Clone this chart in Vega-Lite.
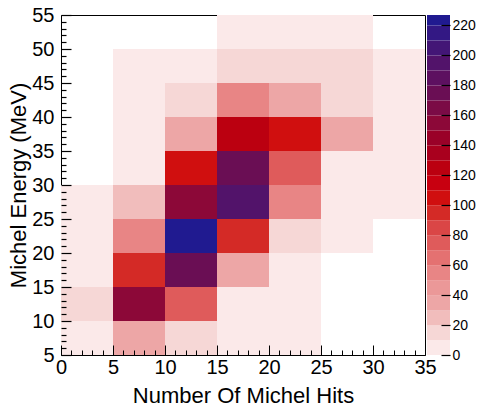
{
  "$schema": "https://vega.github.io/schema/vega-lite/v6.json",
  "background": "white",
  "padding": {"left": 7, "top": 4, "right": 0, "bottom": 0},
  "config": {
    "font": "Liberation Sans",
    "axis": {
      "labelFont": "Liberation Sans",
      "titleFont": "Liberation Sans",
      "labelColor": "black",
      "titleColor": "black",
      "titleFontWeight": "normal",
      "domain": false,
      "grid": false,
      "labelFlush": false,
      "labelOverlap": false,
      "labelBound": false
    }
  },
  "spacing": 2,
  "bounds": "flush",
  "resolve": {"scale": {"color": "independent"}},
  "hconcat": [
    {
      "width": 364,
      "height": 340,
      "view": {"stroke": "black", "strokeWidth": 1},
      "data": {
        "values": [
          {"x0": 0, "x1": 5, "y0": 5, "y1": 10, "v": 4},
          {"x0": 5, "x1": 10, "y0": 5, "y1": 10, "v": 36},
          {"x0": 10, "x1": 15, "y0": 5, "y1": 10, "v": 17},
          {"x0": 15, "x1": 20, "y0": 5, "y1": 10, "v": 6},
          {"x0": 20, "x1": 25, "y0": 5, "y1": 10, "v": 3},
          {"x0": 0, "x1": 5, "y0": 10, "y1": 15, "v": 14},
          {"x0": 5, "x1": 10, "y0": 10, "y1": 15, "v": 152},
          {"x0": 10, "x1": 15, "y0": 10, "y1": 15, "v": 77},
          {"x0": 15, "x1": 20, "y0": 10, "y1": 15, "v": 7},
          {"x0": 20, "x1": 25, "y0": 10, "y1": 15, "v": 5},
          {"x0": 0, "x1": 5, "y0": 15, "y1": 20, "v": 8},
          {"x0": 5, "x1": 10, "y0": 15, "y1": 20, "v": 96},
          {"x0": 10, "x1": 15, "y0": 15, "y1": 20, "v": 173},
          {"x0": 15, "x1": 20, "y0": 15, "y1": 20, "v": 38},
          {"x0": 20, "x1": 25, "y0": 15, "y1": 20, "v": 6},
          {"x0": 0, "x1": 5, "y0": 20, "y1": 25, "v": 6},
          {"x0": 5, "x1": 10, "y0": 20, "y1": 25, "v": 57},
          {"x0": 10, "x1": 15, "y0": 20, "y1": 25, "v": 226},
          {"x0": 15, "x1": 20, "y0": 20, "y1": 25, "v": 97},
          {"x0": 20, "x1": 25, "y0": 20, "y1": 25, "v": 16},
          {"x0": 25, "x1": 30, "y0": 20, "y1": 25, "v": 4},
          {"x0": 0, "x1": 5, "y0": 25, "y1": 30, "v": 5},
          {"x0": 5, "x1": 10, "y0": 25, "y1": 30, "v": 27},
          {"x0": 10, "x1": 15, "y0": 25, "y1": 30, "v": 154},
          {"x0": 15, "x1": 20, "y0": 25, "y1": 30, "v": 196},
          {"x0": 20, "x1": 25, "y0": 25, "y1": 30, "v": 58},
          {"x0": 25, "x1": 30, "y0": 25, "y1": 30, "v": 7},
          {"x0": 30, "x1": 35, "y0": 25, "y1": 30, "v": 3},
          {"x0": 5, "x1": 10, "y0": 30, "y1": 35, "v": 8},
          {"x0": 10, "x1": 15, "y0": 30, "y1": 35, "v": 106},
          {"x0": 15, "x1": 20, "y0": 30, "y1": 35, "v": 176},
          {"x0": 20, "x1": 25, "y0": 30, "y1": 35, "v": 77},
          {"x0": 25, "x1": 30, "y0": 30, "y1": 35, "v": 6},
          {"x0": 30, "x1": 35, "y0": 30, "y1": 35, "v": 4},
          {"x0": 5, "x1": 10, "y0": 35, "y1": 40, "v": 7},
          {"x0": 10, "x1": 15, "y0": 35, "y1": 40, "v": 37},
          {"x0": 15, "x1": 20, "y0": 35, "y1": 40, "v": 124},
          {"x0": 20, "x1": 25, "y0": 35, "y1": 40, "v": 108},
          {"x0": 25, "x1": 30, "y0": 35, "y1": 40, "v": 36},
          {"x0": 30, "x1": 35, "y0": 35, "y1": 40, "v": 5},
          {"x0": 5, "x1": 10, "y0": 40, "y1": 45, "v": 5},
          {"x0": 10, "x1": 15, "y0": 40, "y1": 45, "v": 16},
          {"x0": 15, "x1": 20, "y0": 40, "y1": 45, "v": 56},
          {"x0": 20, "x1": 25, "y0": 40, "y1": 45, "v": 39},
          {"x0": 25, "x1": 30, "y0": 40, "y1": 45, "v": 15},
          {"x0": 30, "x1": 35, "y0": 40, "y1": 45, "v": 4},
          {"x0": 5, "x1": 10, "y0": 45, "y1": 50, "v": 3},
          {"x0": 10, "x1": 15, "y0": 45, "y1": 50, "v": 6},
          {"x0": 15, "x1": 20, "y0": 45, "y1": 50, "v": 13},
          {"x0": 20, "x1": 25, "y0": 45, "y1": 50, "v": 14},
          {"x0": 25, "x1": 30, "y0": 45, "y1": 50, "v": 12},
          {"x0": 30, "x1": 35, "y0": 45, "y1": 50, "v": 3},
          {"x0": 15, "x1": 20, "y0": 50, "y1": 55, "v": 4},
          {"x0": 20, "x1": 25, "y0": 50, "y1": 55, "v": 5},
          {"x0": 25, "x1": 30, "y0": 50, "y1": 55, "v": 3}
        ]
      },
      "layer": [
        {
          "mark": {"type": "rect"},
          "encoding": {
            "x": {
              "field": "x0", "type": "quantitative",
              "scale": {"domain": [0, 35], "nice": false, "zero": false},
              "axis": {
                "orient": "bottom",
                "zindex": 2,
                "tickColor": "black",
                "tickWidth": 1,
                "values": [0, 5, 10, 15, 20, 25, 30, 35],
                "tickSize": -10,
                "labelPadding": 12,
                "labelFontSize": 20,
                "title": "Number Of Michel Hits",
                "titleFontSize": 22,
                "titlePadding": 8
              }
            },
            "x2": {"field": "x1"},
            "y": {
              "field": "y0", "type": "quantitative",
              "scale": {"domain": [5, 55], "nice": false, "zero": false},
              "axis": {
                "orient": "left",
                "zindex": 2,
                "tickColor": "black",
                "tickWidth": 1.2,
                "values": [5, 10, 15, 20, 25, 30, 35, 40, 45, 50, 55],
                "tickSize": -10,
                "labelPadding": 17,
                "labelFontSize": 20,
                "title": "Michel Energy (MeV)",
                "titleFontSize": 22,
                "titlePadding": 1
              }
            },
            "y2": {"field": "y1"},
            "color": {
              "field": "v", "type": "quantitative",
              "scale": {
                "type": "threshold",
                "domain": [10, 20, 30, 40, 50, 60, 70, 80, 90, 100, 110, 120, 130, 140, 150, 160, 170, 180, 190, 200, 210, 220],
                "range": ["#fbe9e9", "#f6d7d6", "#f1bdbc", "#eda6a6", "#eb9898", "#e88585", "#e47171", "#df5b5b", "#da4646", "#d42a26", "#d00f0f", "#c80010", "#bb0010", "#a9001e", "#9a0128", "#8c0838", "#7b0b46", "#6a0e54", "#5d1060", "#52136a", "#431676", "#331884", "#201a90"]
              },
              "legend": null
            }
          }
        },
        {
          "mark": {"type": "rect", "opacity": 0},
          "encoding": {
            "x": {
              "field": "x0", "type": "quantitative",
              "scale": {"domain": [0, 35], "nice": false, "zero": false},
              "axis": {
                "orient": "bottom",
                "zindex": 2,
                "tickColor": "black",
                "tickWidth": 1,
                "values": [1, 2, 3, 4, 6, 7, 8, 9, 11, 12, 13, 14, 16, 17, 18, 19, 21, 22, 23, 24, 26, 27, 28, 29, 31, 32, 33, 34],
                "tickSize": -5,
                "labels": false,
                "title": null
              }
            },
            "x2": {"field": "x1"},
            "y": {
              "field": "y0", "type": "quantitative",
              "scale": {"domain": [5, 55], "nice": false, "zero": false},
              "axis": {
                "orient": "left",
                "zindex": 2,
                "tickColor": "black",
                "tickWidth": 1.2,
                "values": [6, 7, 8, 9, 11, 12, 13, 14, 16, 17, 18, 19, 21, 22, 23, 24, 26, 27, 28, 29, 31, 32, 33, 34, 36, 37, 38, 39, 41, 42, 43, 44, 46, 47, 48, 49, 51, 52, 53, 54],
                "tickSize": -5,
                "labels": false,
                "title": null
              }
            },
            "y2": {"field": "y1"}
          }
        }
      ],
      "resolve": {"axis": {"x": "independent", "y": "independent"}}
    },
    {
      "width": 23,
      "height": 340,
      "view": {"stroke": null},
      "data": {
        "values": [
          {"lo": 0, "hi": 10}, {"lo": 10, "hi": 20}, {"lo": 20, "hi": 30}, {"lo": 30, "hi": 40},
          {"lo": 40, "hi": 50}, {"lo": 50, "hi": 60}, {"lo": 60, "hi": 70}, {"lo": 70, "hi": 80},
          {"lo": 80, "hi": 90}, {"lo": 90, "hi": 100}, {"lo": 100, "hi": 110}, {"lo": 110, "hi": 120},
          {"lo": 120, "hi": 130}, {"lo": 130, "hi": 140}, {"lo": 140, "hi": 150}, {"lo": 150, "hi": 160},
          {"lo": 160, "hi": 170}, {"lo": 170, "hi": 180}, {"lo": 180, "hi": 190}, {"lo": 190, "hi": 200},
          {"lo": 200, "hi": 210}, {"lo": 210, "hi": 220}, {"lo": 220, "hi": 227}
        ]
      },
      "mark": {"type": "rect"},
      "encoding": {
        "y": {
          "field": "lo", "type": "quantitative",
          "scale": {"domain": [0, 227], "nice": false, "zero": false},
          "axis": {
            "orient": "right",
            "zindex": 2,
            "tickColor": "black",
            "tickWidth": 1.2,
            "values": [0, 20, 40, 60, 80, 100, 120, 140, 160, 180, 200, 220],
            "tickSize": -9,
            "labelPadding": 11,
            "labelFontSize": 14,
            "title": null
          }
        },
        "y2": {"field": "hi"},
        "color": {
          "field": "lo", "type": "quantitative",
          "scale": {
            "type": "threshold",
            "domain": [10, 20, 30, 40, 50, 60, 70, 80, 90, 100, 110, 120, 130, 140, 150, 160, 170, 180, 190, 200, 210, 220],
            "range": ["#fbe9e9", "#f6d7d6", "#f1bdbc", "#eda6a6", "#eb9898", "#e88585", "#e47171", "#df5b5b", "#da4646", "#d42a26", "#d00f0f", "#c80010", "#bb0010", "#a9001e", "#9a0128", "#8c0838", "#7b0b46", "#6a0e54", "#5d1060", "#52136a", "#431676", "#331884", "#201a90"]
          },
          "legend": null
        }
      }
    }
  ]
}
